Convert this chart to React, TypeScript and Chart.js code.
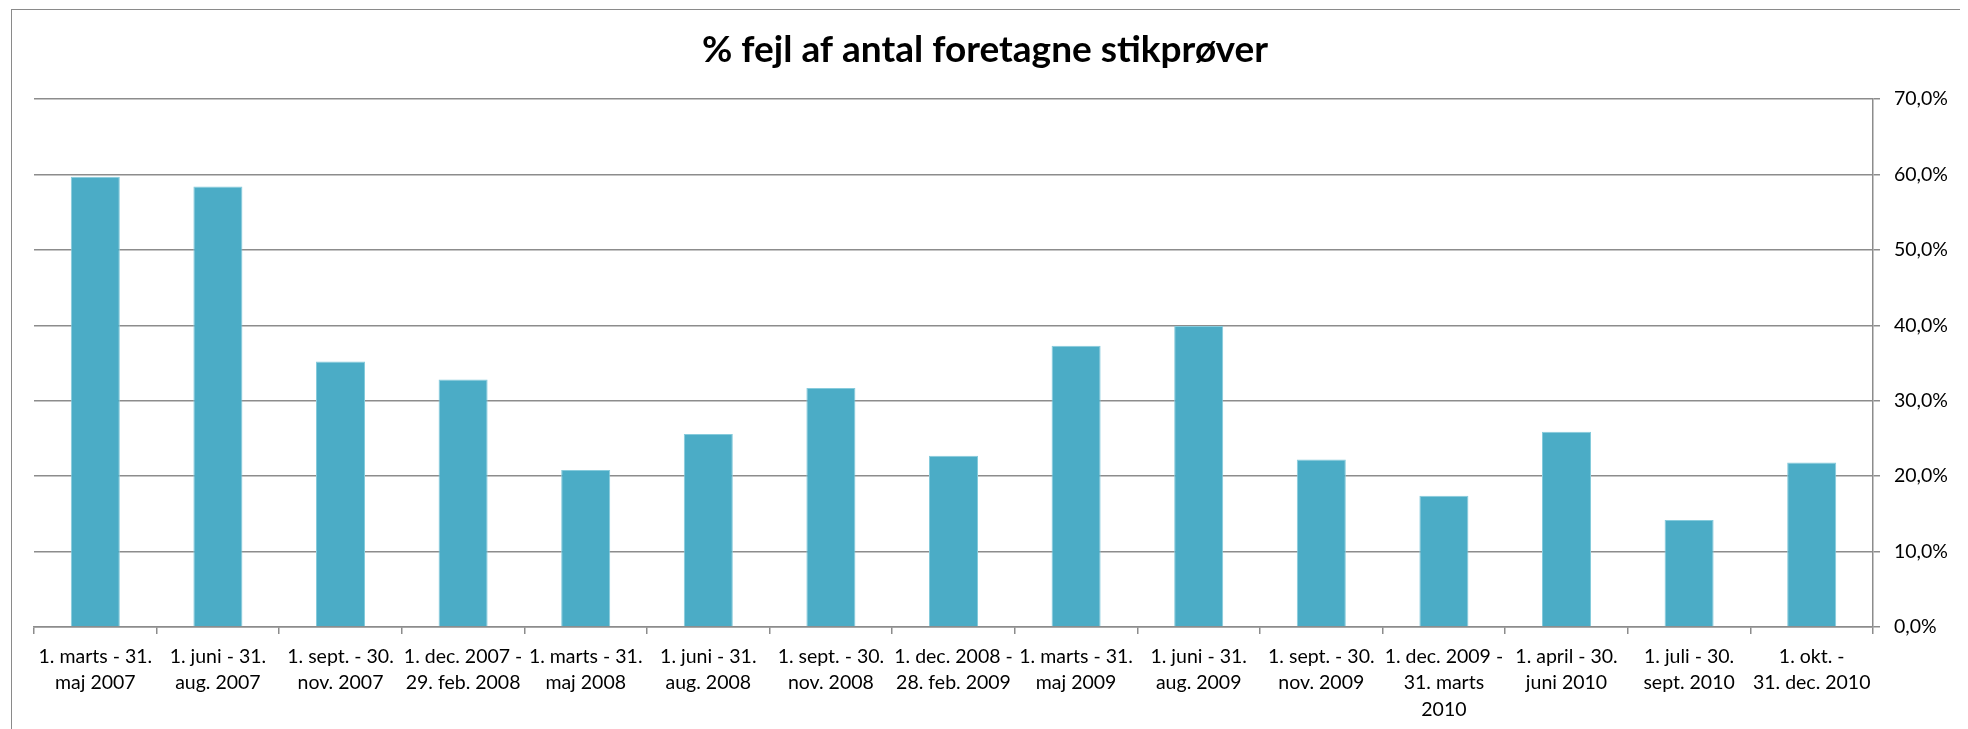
import React, { useEffect, useRef } from "react";
import { Chart, registerables } from "chart.js";

Chart.register(...registerables);

const chartTitle = "% fejl af antal foretagne stikprøver";

const categories: string[][] = [
  ["1. marts - 31.", "maj 2007"],
  ["1. juni - 31.", "aug. 2007"],
  ["1. sept. - 30.", "nov. 2007"],
  ["1. dec. 2007 -", "29. feb. 2008"],
  ["1. marts - 31.", "maj 2008"],
  ["1. juni - 31.", "aug. 2008"],
  ["1. sept. - 30.", "nov. 2008"],
  ["1. dec. 2008 -", "28. feb. 2009"],
  ["1. marts - 31.", "maj 2009"],
  ["1. juni - 31.", "aug. 2009"],
  ["1. sept. - 30.", "nov. 2009"],
  ["1. dec. 2009 -", "31. marts", "2010"],
  ["1. april - 30.", "juni 2010"],
  ["1. juli - 30.", "sept. 2010"],
  ["1. okt. -", "31. dec. 2010"],
];

const errorPercent: number[] = [
  59.7, 58.4, 35.2, 32.8, 20.8, 25.6, 31.7, 22.7, 37.3, 39.9, 22.2, 17.4, 25.9, 14.2, 21.8,
];

const yMin = 0;
const yMax = 70;
const yStep = 10;

const formatPct = (v: number) => v.toFixed(1).replace(".", ",") + "%";

const FONT = "Lato, 'Open Sans', sans-serif";
const GRID = "#8c8c8c";

export default function App() {
  const canvasRef = useRef<HTMLCanvasElement | null>(null);

  useEffect(() => {
    const canvas = canvasRef.current;
    if (!canvas) return;
    const chart = new Chart(canvas, {
      type: "bar",
      data: {
        labels: categories,
        datasets: [
          {
            data: errorPercent,
            backgroundColor: "#4bacc6",
            borderColor: "#86cbdc",
            borderWidth: 1,
            barPercentage: 0.4,
            categoryPercentage: 1.0,
            xAxisID: "x",
            yAxisID: "y",
          },
        ],
      },
      options: {
        animation: false,
        responsive: false,
        maintainAspectRatio: false,
        devicePixelRatio: 1,
        layout: { padding: { left: 0, right: 0, top: 0, bottom: 0 } },
        plugins: {
          legend: { display: false },
          tooltip: { enabled: false },
          title: {
            display: true,
            text: chartTitle,
            color: "#000",
            font: { family: FONT, size: 37, weight: "bold", lineHeight: 1.2 },
            padding: { top: 20, bottom: 26.6 },
          },
        },
        scales: {
          x: {
            type: "category",
            offset: true,
            grid: {
              display: true,
              offset: true,
              drawOnChartArea: false,
              drawTicks: true,
              tickLength: 7,
              color: GRID,
              lineWidth: 1.5,
            },
            border: { display: true, color: GRID, width: 1.5 },
            ticks: {
              color: "#000",
              maxRotation: 0,
              minRotation: 0,
              autoSkip: false,
              padding: 9,
              font: { family: FONT, size: 19.5, lineHeight: "26.7px" },
            },
            afterFit: (scale: any) => {
              scale.height = 102;
            },
          },
          y: {
            position: "right",
            min: yMin,
            max: yMax,
            ticks: {
              stepSize: yStep,
              color: "#000",
              padding: 14,
              font: { family: FONT, size: 19.5 },
              callback: (v: any) => formatPct(Number(v)),
            },
            grid: {
              color: GRID,
              lineWidth: 1.5,
              drawTicks: true,
              tickLength: 7,
            },
            border: { display: true, color: GRID, width: 1.5 },
            afterFit: (scale: any) => {
              scale.width = 89;
            },
          },
          spacer: {
            type: "linear",
            position: "left",
            display: true,
            min: yMin,
            max: yMax,
            grid: { display: false, drawTicks: false },
            border: { display: false },
            ticks: { display: false },
            afterFit: (scale: any) => {
              scale.width = 26;
            },
          },
        },
      },
    });
    return () => chart.destroy();
  }, []);

  return (
    <div
      style={{
        position: "relative",
        width: 1954,
        height: 721,
        overflow: "hidden",
        background: "#fff",
      }}
    >
      <canvas
        ref={canvasRef}
        width={1954}
        height={721}
        style={{ position: "absolute", left: 0, top: 0, display: "block" }}
      />
      <div
        style={{
          position: "absolute",
          left: 3,
          top: 1,
          width: 1950,
          height: 800,
          boxSizing: "border-box",
          border: "1.5px solid #8a8a8a",
          pointerEvents: "none",
        }}
      />
    </div>
  );
}
